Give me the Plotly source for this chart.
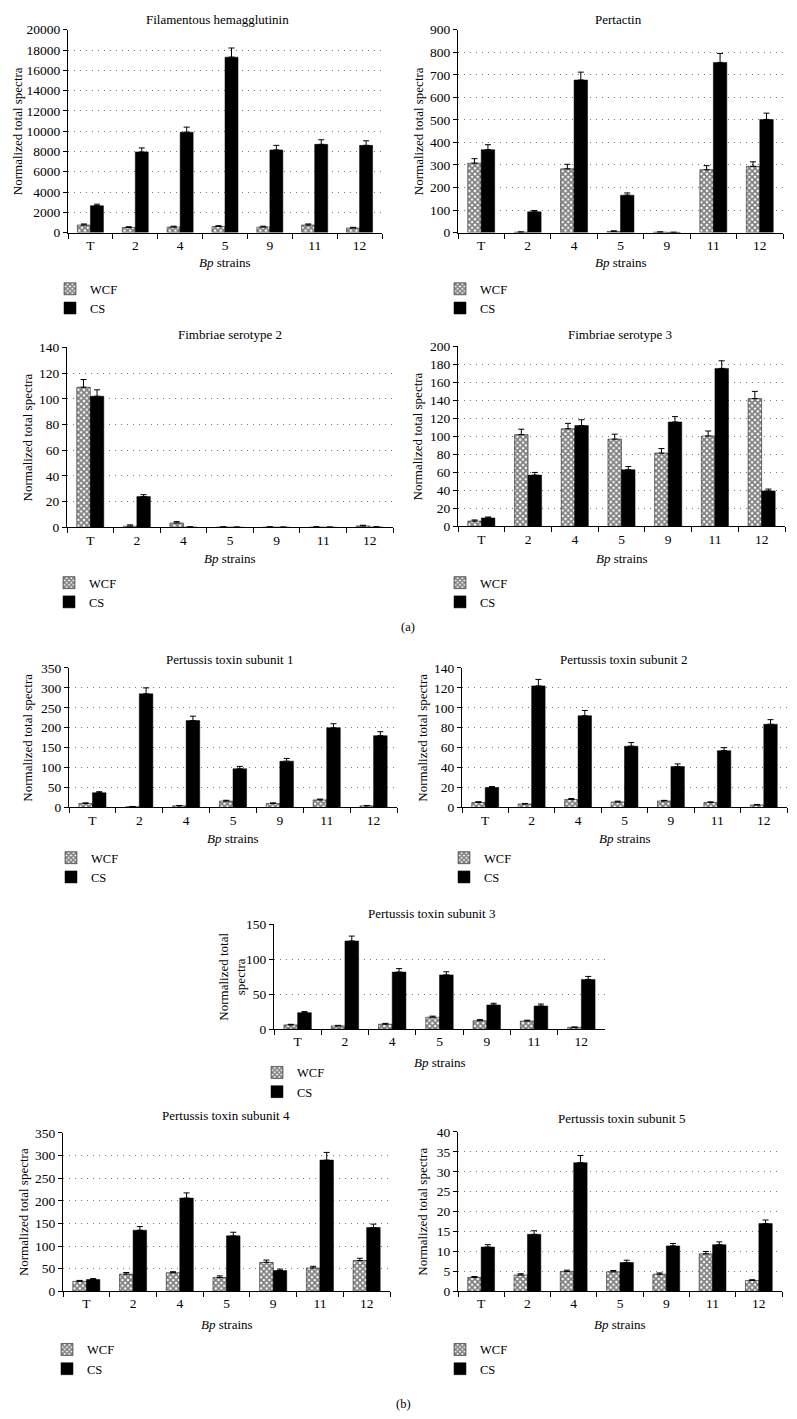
import plotly.graph_objects as go

W, H = 797, 1419
FONT = "Liberation Serif"

strains = ["T", "2", "4", "5", "9", "11", "12"]

fha_wcf = [750, 500, 550, 600, 550, 750, 450]
fha_wcf_err = [100, 80, 80, 80, 80, 100, 70]
fha_cs = [2650, 7950, 9900, 17300, 8150, 8700, 8600]
fha_cs_err = [150, 400, 500, 900, 450, 450, 450]

prn_wcf = [308, 2, 283, 5, 2, 279, 294]
prn_wcf_err = [20, 1, 20, 3, 1, 18, 20]
prn_cs = [368, 92, 677, 166, 1, 755, 502]
prn_cs_err = [22, 6, 35, 10, 0.5, 40, 28]

fim2_wcf = [109, 1, 3.5, 0.3, 0.3, 0.3, 1.2]
fim2_wcf_err = [6, 1, 1, 0.2, 0.2, 0.2, 0.5]
fim2_cs = [102, 24, 0.3, 0.2, 0.2, 0.2, 0.3]
fim2_cs_err = [5, 1.5, 0.2, 0.1, 0.1, 0.1, 0.2]

fim3_wcf = [6, 102, 108.5, 97, 81.5, 100.5, 142]
fim3_wcf_err = [1.2, 6, 6, 5.5, 5, 5.5, 8]
fim3_cs = [9.5, 57, 112, 63, 116, 175.5, 39.5]
fim3_cs_err = [1, 3, 6.5, 3.5, 6, 8.5, 2]

pt1_wcf = [10, 2, 4, 16, 10, 19, 4]
pt1_wcf_err = [1.5, 0.5, 1, 2, 1.5, 2, 1]
pt1_cs = [37, 285, 218, 97, 116, 200, 180]
pt1_cs_err = [2.5, 15, 11, 6, 7, 10, 10]

pt2_wcf = [5, 3.5, 8, 5.5, 6.5, 5, 2.5]
pt2_wcf_err = [0.8, 0.5, 1, 0.8, 0.6, 0.6, 0.5]
pt2_cs = [20, 122, 92, 61.5, 41, 57, 83.5]
pt2_cs_err = [1, 6.5, 5.3, 3.6, 2.7, 3, 4.6]

pt3_wcf = [6, 4.5, 7, 17, 12, 11.5, 2.5]
pt3_wcf_err = [0.8, 0.8, 1.2, 1.5, 1.5, 1.2, 0.5]
pt3_cs = [23.5, 126, 81.5, 77.5, 34.5, 33, 71]
pt3_cs_err = [1.5, 7, 5, 4.5, 2.4, 2.8, 4.3]

pt4_wcf = [22, 38, 41, 30.5, 64, 51.5, 68]
pt4_wcf_err = [2, 3.5, 2.2, 3.5, 5, 3.7, 5]
pt4_cs = [26, 135, 206, 122.5, 46, 290, 141]
pt4_cs_err = [2, 8, 11.5, 8, 3, 17, 7.5]

pt5_wcf = [3.5, 4.1, 5.0, 4.9, 4.3, 9.4, 2.7]
pt5_wcf_err = [0.2, 0.3, 0.3, 0.3, 0.3, 0.6, 0.2]
pt5_cs = [11.1, 14.3, 32.3, 7.2, 11.4, 11.7, 17.0]
pt5_cs_err = [0.6, 0.9, 1.8, 0.6, 0.6, 0.7, 0.9]

titles = ["Filamentous hemagglutinin", "Pertactin", "Fimbriae serotype 2",
          "Fimbriae serotype 3", "Pertussis toxin subunit 1", "Pertussis toxin subunit 2",
          "Pertussis toxin subunit 3", "Pertussis toxin subunit 4", "Pertussis toxin subunit 5"]
ymax = [20000, 900, 140, 200, 350, 140, 150, 350, 40]
ydtick = [2000, 100, 20, 20, 50, 20, 50, 50, 5]

panels = [
    (fha_wcf, fha_wcf_err, fha_cs, fha_cs_err),
    (prn_wcf, prn_wcf_err, prn_cs, prn_cs_err),
    (fim2_wcf, fim2_wcf_err, fim2_cs, fim2_cs_err),
    (fim3_wcf, fim3_wcf_err, fim3_cs, fim3_cs_err),
    (pt1_wcf, pt1_wcf_err, pt1_cs, pt1_cs_err),
    (pt2_wcf, pt2_wcf_err, pt2_cs, pt2_cs_err),
    (pt3_wcf, pt3_wcf_err, pt3_cs, pt3_cs_err),
    (pt4_wcf, pt4_wcf_err, pt4_cs, pt4_cs_err),
    (pt5_wcf, pt5_wcf_err, pt5_cs, pt5_cs_err),
]

# layout in pixels: x0, x1, ytop, ybottom
boxes = [
    (68, 382, 23, 228), (458, 783, 23, 228),
    (67, 393, 344, 526), (458, 785, 343, 525),
    (69, 397, 668, 809), (462, 787, 668, 809),
    (274, 605, 927, 1033),
    (63, 390, 1138, 1298), (458, 782, 1137, 1298),
]
title_y = [13, 13, 331, 331, 659, 659, 916, 1120, 1123]
title_x = [218, 618, 230, 620, 230, 624, 432, 226, 622]
ytitle_x = [17, 418, 27, 417, 28, 423, 232, 23, 423]
xtitle_y = [258, 258, 557, 557, 840, 840, 1067, 1332, 1332]
legend_pos = [(50, 270), (440, 270), (49, 567), (440, 567), (51, 845), (444, 845),
              (257, 1062), (47, 1342), (440, 1342)]


def px(x):
    return x / W


def py(y):
    return 1 - y / H


fig = go.Figure()
annotations = []
for i, (wcf, wcf_e, cs, cs_e) in enumerate(panels):
    n = i + 1
    xa = "x" if n == 1 else f"x{n}"
    ya = "y" if n == 1 else f"y{n}"
    lg = "legend" if n == 1 else f"legend{n}"
    fig.add_trace(go.Bar(
        x=strains, y=wcf, name="WCF", xaxis=xa, yaxis=ya, legend=lg,
        marker=dict(color="white", line=dict(color="black", width=0.5),
                    pattern=dict(shape="x", fgcolor="black", bgcolor="white",
                                 size=4, solidity=0.7)),
        error_y=dict(type="data", array=wcf_e, arrayminus=[0] * len(wcf_e),
                     symmetric=False, color="black", thickness=1, width=3),
    ))
    fig.add_trace(go.Bar(
        x=strains, y=cs, name="CS", xaxis=xa, yaxis=ya, legend=lg,
        marker=dict(color="black", line=dict(color="black", width=0.5)),
        error_y=dict(type="data", array=cs_e, arrayminus=[0] * len(cs_e),
                     symmetric=False, color="black", thickness=1, width=3),
    ))
    x0, x1, yt, yb = boxes[i]
    xkey = "xaxis" if n == 1 else f"xaxis{n}"
    ykey = "yaxis" if n == 1 else f"yaxis{n}"
    fig.layout[xkey] = dict(
        domain=[px(x0), px(x1)], anchor=ya, type="category", range=[-0.5, 6.5],
        showline=True, linecolor="black", linewidth=1, ticks="outside",
        tickson="boundaries", ticklen=5, tickcolor="black", showgrid=False,
        tickfont=dict(family=FONT, size=13.5, color="black"), fixedrange=True,
    )
    fig.layout[ykey] = dict(
        domain=[py(yb), py(yt)], anchor=xa, range=[0, ymax[i]], dtick=ydtick[i],
        tickformat="d",
        showline=True, linecolor="black", linewidth=1, ticks="outside", ticklen=4,
        tickcolor="black", showgrid=True, gridcolor="#777777", griddash="1px,5px",
        gridwidth=1, zeroline=False,
        tickfont=dict(family=FONT, size=13.5, color="black"), fixedrange=True,
    )
    lx, ly = legend_pos[i]
    fig.layout[lg] = dict(
        x=px(lx), y=py(ly), xanchor="left", yanchor="top", bgcolor="rgba(0,0,0,0)",
        font=dict(family=FONT, size=12.5, color="black"), itemwidth=30,
        tracegroupgap=0,
    )
    annotations.append(dict(
        text=titles[i], x=px(title_x[i]), y=py(title_y[i]), xref="paper", yref="paper",
        showarrow=False, xanchor="center", yanchor="middle",
        font=dict(family=FONT, size=13, color="black")))
    ytxt = "Normalized total<br>spectra" if n == 7 else "Normalized total spectra"
    annotations.append(dict(
        text=ytxt, x=px(ytitle_x[i]), y=py((yt + yb) / 2), xref="paper", yref="paper",
        showarrow=False, xanchor="center", yanchor="middle", textangle=-90,
        font=dict(family=FONT, size=13, color="black")))
    annotations.append(dict(
        text="<i>Bp</i> strains", x=px((x0 + x1) / 2), y=py(xtitle_y[i]),
        xref="paper", yref="paper", showarrow=False, xanchor="center", yanchor="middle",
        font=dict(family=FONT, size=13, color="black")))

annotations.append(dict(text="(a)", x=px(408), y=py(627), xref="paper", yref="paper",
                        showarrow=False, xanchor="center", yanchor="middle",
                        font=dict(family=FONT, size=12.5, color="black")))
annotations.append(dict(text="(b)", x=px(403), y=py(1412), xref="paper", yref="paper",
                        showarrow=False, xanchor="center", yanchor="middle",
                        font=dict(family=FONT, size=12.5, color="black")))

fig.update_layout(
    width=W, height=H, margin=dict(l=0, r=0, t=0, b=0),
    paper_bgcolor="white", plot_bgcolor="white",
    barmode="group", bargap=0.42, bargroupgap=0,
    annotations=annotations, showlegend=True,
    font=dict(family=FONT, color="black"),
)

fig.write_html("out.html", config={"displayModeBar": False},
               post_script="document.body.style.margin='0px';")
